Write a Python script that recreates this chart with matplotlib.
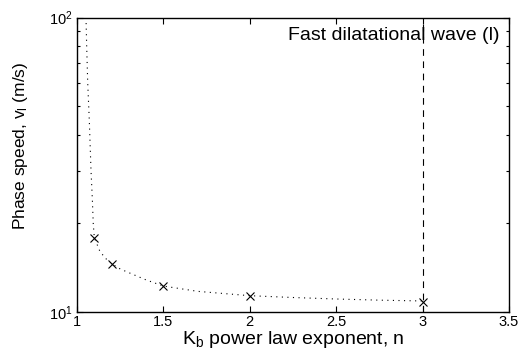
import matplotlib
matplotlib.use("Agg")
import matplotlib.pyplot as plt
from matplotlib.ticker import LogLocator, NullFormatter

plt.rcParams['font.family'] = ['Liberation Sans', 'DejaVu Sans']
plt.rcParams['mathtext.fontset'] = 'custom'
plt.rcParams['mathtext.rm'] = 'Liberation Sans'
plt.rcParams['mathtext.it'] = 'Liberation Sans:italic'
plt.rcParams['mathtext.default'] = 'regular'

# Computed points (markers)
n_pts = [1.1, 1.2, 1.5, 2.0, 3.0]
v_pts = [17.9, 14.6, 12.25, 11.36, 10.85]

# Dotted curve
n_curve = [1.052, 1.056, 1.062, 1.071, 1.081, 1.089, 1.094, 1.1, 1.13, 1.16, 1.2,
           1.25, 1.3, 1.4, 1.5, 1.7, 2.0, 2.25, 2.5, 2.75, 3.0]
v_curve = [100, 80, 60, 45, 30.3, 24, 20, 17.9, 16.2, 15.3, 14.6,
           14.0, 13.6, 12.85, 12.25, 11.75, 11.36, 11.2, 11.07, 10.97, 10.9]

x_ticks = [1, 1.5, 2, 2.5, 3, 3.5]
x_ticklabels = ['1', '1.5', '2', '2.5', '3', '3.5']

fig = plt.figure(figsize=(5.18, 3.62), dpi=100)
ax = fig.add_axes([77/518, 1 - 312/362, 432/518, 294.5/362])

ax.plot(n_curve, v_curve, color='black', linestyle=(0, (1, 4)), linewidth=0.8)
ax.plot(n_pts, v_pts, linestyle='none', marker='x', color='black',
        markersize=5.5, markeredgewidth=0.8)
ax.axvline(3.0, color='black', linestyle=(0, (6, 5)), linewidth=0.8)

ax.set_yscale('log')
ax.set_xlim(1, 3.5)
ax.set_ylim(10, 100)
ax.set_xticks(x_ticks)
ax.set_xticklabels(x_ticklabels)
ax.yaxis.set_major_locator(LogLocator(base=10))
ax.yaxis.set_minor_locator(LogLocator(base=10, subs=range(2, 10)))
ax.yaxis.set_minor_formatter(NullFormatter())

ax.tick_params(which='both', direction='in', top=True, right=True,
               labelsize=10.5, colors='black', width=0.8)
ax.tick_params(which='major', length=4)
ax.tick_params(which='minor', length=2.5)
ax.tick_params(axis='x', pad=2.5)
for s in ax.spines.values():
    s.set_linewidth(1.0)

ax.set_xlabel('K$_b$ power law exponent, n', fontsize=14, labelpad=0)
ax.set_ylabel('Phase speed, v$_l$ (m/s)', fontsize=12.5)
ax.yaxis.set_label_coords(-0.108, 0.565)

ax.text(0.979, 0.9236, 'Fast dilatational wave (l)', transform=ax.transAxes,
        ha='right', va='baseline', fontsize=14)

fig.savefig('out.png', dpi=100)
